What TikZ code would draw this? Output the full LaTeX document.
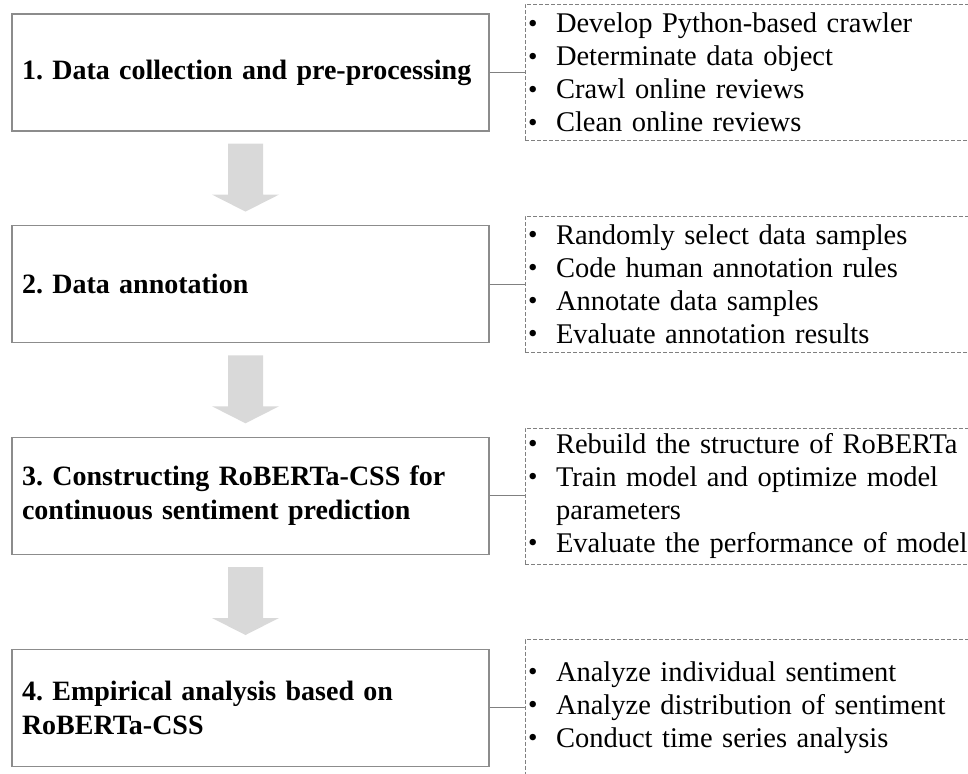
\documentclass[tikz,border=0pt]{standalone}
\usepackage{fontspec}
\setmainfont{Liberation Serif}
\frenchspacing

\newcommand{\itm}{\makebox[27pt][l]{\hspace{-1pt}\raisebox{0.5pt}{\fontsize{27}{27}\selectfont•}}}

\begin{document}
\begin{tikzpicture}[x=1pt, y=1pt, node distance=211.7pt,
	stepbox/.style={rectangle, draw=gray!90, line width=1.2pt, text width=457pt, inner xsep=10pt, minimum height=117pt, align=left, font=\bfseries\fontsize{28}{34}\selectfont},
	detailbox/.style={rectangle, draw=gray, dash pattern=on 4pt off 2pt, line width=0.8pt, text width=452pt, inner xsep=4pt, minimum height=136pt, align=left, font=\fontsize{28.5}{33}\selectfont},
	flow/.style={fill=gray!30},
	link/.style={draw=gray, line width=1pt}]
	\useasboundingbox (0,0) rectangle (968,-773);

	% nodes
	\node[stepbox] (s1) at (250.5,-72.5) {\mbox{1. Data collection and pre-processing}};
	\node[stepbox, below of=s1] (s2) {2. Data annotation};
	\node[stepbox, below of=s2] (s3) {3. Constructing RoBERTa-CSS for\\continuous sentiment prediction};
	\node[stepbox, below of=s3] (s4) {4. Empirical analysis based on\\RoBERTa-CSS};

	% details
	\node[detailbox, right of=s1, xshift=292.8pt] (d1) {\itm Develop Python-based crawler\\\itm Determinate data object\\\itm Crawl online reviews\\\itm Clean online reviews};
	\node[detailbox, right of=s2, xshift=292.8pt] (d2) {\itm Randomly select data samples\\\itm Code human annotation rules\\\itm Annotate data samples\\\itm Evaluate annotation results};
	\node[detailbox, right of=s3, xshift=292.8pt] (d3) {\itm Rebuild the structure of RoBERTa\\\itm Train model and optimize model\\\phantom{\itm}parameters\\\itm Evaluate the performance of model};
	\node[detailbox, right of=s4, xshift=292.8pt] (d4) {\itm Analyze individual sentiment\\\itm Analyze distribution of sentiment\\\itm Conduct time series analysis};

	% arrows
	\fill[flow] ([xshift=-22.5pt,yshift=-12pt]s1.south) -- ++(35,0) -- ++(0,-51) -- ++(16,0) -- ++(-33.5,-17) -- ++(-33.5,17) -- ++(16,0) -- cycle;
	\fill[flow] ([xshift=-22.5pt,yshift=-12pt]s2.south) -- ++(35,0) -- ++(0,-51) -- ++(16,0) -- ++(-33.5,-17) -- ++(-33.5,17) -- ++(16,0) -- cycle;
	\fill[flow] ([xshift=-22.5pt,yshift=-12pt]s3.south) -- ++(35,0) -- ++(0,-51) -- ++(16,0) -- ++(-33.5,-17) -- ++(-33.5,17) -- ++(16,0) -- cycle;

	% edges
	\draw[link] (s1) -- (d1);
	\draw[link] (s2) -- (d2);
	\draw[link] (s3) -- (d3);
	\draw[link] (s4) -- (d4);
\end{tikzpicture}
\end{document}
